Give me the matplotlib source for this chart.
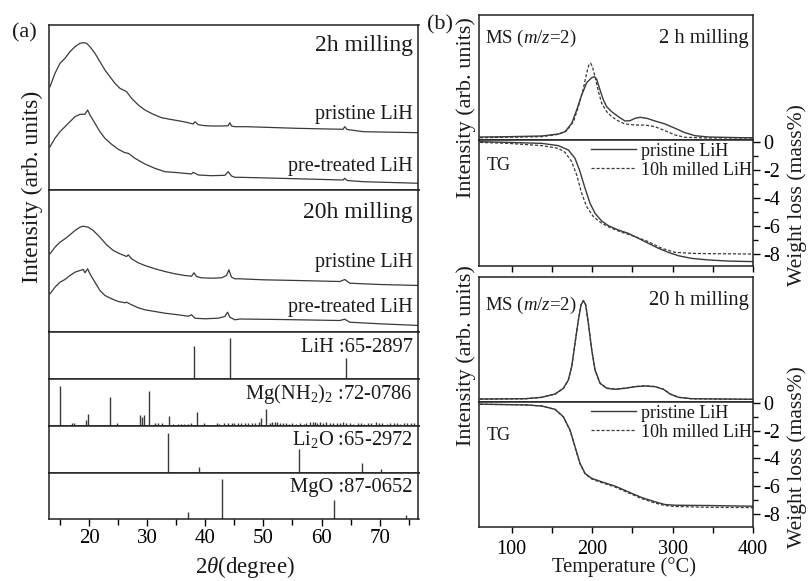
import matplotlib.pyplot as plt

plt.rcParams['font.family'] = 'Liberation Serif'
plt.rcParams['mathtext.fontset'] = 'custom'
plt.rcParams['mathtext.rm'] = 'Liberation Serif'
plt.rcParams['mathtext.it'] = 'Liberation Serif:italic'
plt.rcParams['axes.unicode_minus'] = False

# ---------------- (a) XRD patterns ----------------
tt_2h_pristine = [13.24, 14.1, 14.96, 15.82, 16.68, 17.54, 18.4, 18.97, 19.55, 20.12, 20.98, 21.84,
                  22.7, 23.56, 24.42, 25.28, 26.43, 27.29, 28.44, 29.59, 31.02, 32.46, 33.89, 35.32,
                  36.76, 37.91, 38.19, 38.77, 39.91, 41.06, 42.78, 43.93, 44.22, 44.5, 45.08, 47.1,
                  55.7, 63.7, 64.0, 64.4, 67.2, 76.9]
int_2h_pristine = [103.3, 116.7, 126.7, 131.7, 138.3, 143.3, 146.7, 147.3, 146.7, 143.3, 136.7, 128.3,
                   120, 113.3, 106.7, 101.7, 98.3, 91.7, 85, 80, 75.7, 72.3, 70.7, 69.3,
                   67.7, 66, 68.3, 65.3, 64.3, 64, 64, 64.3, 67.3, 64, 63.3, 63.3,
                   61.7, 60.7, 63.3, 60.5, 58.3, 57.3]

tt_2h_treated = [13.24, 14.1, 14.96, 15.82, 16.68, 17.54, 18.4, 19.26, 19.72, 20.12, 20.98, 21.84,
                 22.7, 23.85, 25.0, 26.14, 26.72, 27.87, 29.59, 31.3, 33.03, 35.32, 37.62, 37.91,
                 38.77, 41.06, 43.36, 43.93, 44.5, 45.08, 45.9, 52.8, 63.7, 64.0, 64.4, 67.2, 76.9]
int_2h_treated = [43.3, 51.7, 58.3, 63.3, 68.3, 73.3, 75.7, 75.7, 80, 75, 66.7, 58.3,
                  51.7, 45.7, 40.7, 37.3, 36.7, 31.7, 26, 21.7, 18.3, 17.3, 16, 17.7,
                  15, 14.3, 14.7, 18.3, 14, 12.7, 12.7, 11.7, 10, 11.7, 9.5, 8.3, 6.7]

tt_20h_pristine = [13.24, 14.1, 14.96, 15.82, 16.68, 17.54, 18.4, 18.97, 19.83, 20.69, 21.84, 22.99,
                   24.14, 25.28, 26.43, 26.72, 27.29, 28.44, 29.59, 31.31, 33.03, 34.75, 36.47, 37.62,
                   38.02, 38.48, 39.34, 41.06, 42.78, 43.64, 44.04, 44.5, 45.08, 45.94, 49.96, 55.7,
                   63.15, 64.0, 64.87, 70.04, 76.9]
int_20h_pristine = [77.7, 84.3, 89.3, 92.7, 96.7, 101, 104.3, 105.3, 104.3, 101, 94.3, 86.7,
                    81, 77.7, 75, 76.7, 72.7, 68.7, 66, 62.7, 60, 57.7, 56, 55.3,
                    58.7, 55, 53.7, 53.3, 53.7, 56, 61.7, 54.3, 52.7, 52.7, 51.7, 51,
                    50, 52, 48.3, 47, 46]

tt_20h_treated = [13.24, 14.1, 14.96, 15.82, 16.68, 17.54, 18.4, 18.97, 19.26, 19.72, 20.12, 20.98,
                  21.84, 22.7, 23.85, 25.0, 26.14, 26.43, 27.29, 28.44, 29.59, 31.31, 33.03, 35.32,
                  37.04, 37.62, 38.19, 39.91, 42.21, 43.36, 43.82, 44.22, 45.08, 45.94, 52.83, 63.15,
                  64.0, 64.87, 70.04, 76.9]
int_20h_treated = [37.7, 44.3, 49.3, 52, 56, 59.3, 61, 62, 58.7, 62.7, 57.7, 49.3,
                   41, 36, 32.7, 30, 28.7, 29.3, 26.7, 23.7, 21.7, 20, 18.3, 16.7,
                   15.3, 16.7, 13.3, 12.7, 13.3, 15, 19.3, 14.3, 11.7, 12.5, 12, 11,
                   12.3, 9.3, 7.7, 6]

# reference cards (position, relative intensity)
lih_pos = [38.0, 44.2, 64.3]
lih_int = [81, 100, 51]

mgnh2_pos = [15.0, 17.0, 17.4, 19.4, 19.7, 23.5, 24.8, 28.8, 29.1, 29.4, 30.3, 31.4, 31.9, 32.6,
             33.8, 34.4, 35.3, 35.8, 36.4, 37.0, 37.6, 38.5, 39.7, 42.0, 42.4, 43.2, 43.9, 44.5,
             45.0, 45.6, 46.2, 46.8, 47.4, 48.0, 48.6, 49.2, 49.6, 50.4, 51.1, 51.5, 52.0, 52.4,
             52.8, 53.3, 53.8, 54.4, 55.0, 55.6, 56.3, 56.9, 57.4, 58.0, 58.5, 58.9, 59.3, 59.7,
             60.2, 60.8, 61.4, 62.0, 62.6, 63.1, 63.7, 64.3, 64.9, 65.5, 66.2, 66.8, 67.4, 68.0,
             68.6, 69.3, 69.9, 70.5, 71.2, 71.8, 72.4, 73.0, 73.6, 74.2, 74.8, 75.4, 76.0]
mgnh2_int = [100, 8, 8, 15, 29, 73, 7, 27, 22, 27, 87, 7, 7, 7,
             25, 5, 6, 6, 6, 6, 7, 35, 8, 7, 6, 8, 8, 8,
             7, 8, 7, 7, 8, 7, 8, 10, 20, 42, 7, 9, 10, 9,
             8, 7, 8, 6, 7, 6, 8, 6, 7, 9, 10, 9, 8, 10,
             8, 9, 7, 8, 7, 8, 9, 7, 8, 6, 7, 8, 6, 7,
             8, 9, 8, 7, 6, 8, 7, 8, 6, 7, 8, 7, 8]

li2o_pos = [33.6, 38.9, 56.1, 66.9, 70.3]
li2o_int = [100, 15, 59, 24, 9]

mgo_pos = [37.0, 42.9, 62.2, 74.6]
mgo_int = [18, 100, 49, 11]

card_labels = ['LiH :65-2897', r'Mg(NH$_2$)$_2$ :72-0786', r'Li$_2$O :65-2972', 'MgO :87-0652']

# ---------------- (b) MS / TG ----------------
t_ms2_pristine = [60.6, 95.8, 137.3, 158, 166.3, 174.6, 180.8, 187, 193.2, 199.5, 202.8, 205.7, 209.8,
                  214, 218.1, 224.3, 232.6, 240.9, 247.1, 253.4, 259.6, 267.9, 278.2, 290.7, 303.1,
                  315.5, 328, 344.6, 386, 400]
ms2_pristine = [2.5, 2.8, 3.5, 5.5, 7.8, 16.2, 29.5, 44.5, 56.8, 61.8, 62.8, 60.2, 49.5,
                39.5, 32.8, 27.8, 22.8, 18.5, 18.8, 21.2, 22.2, 21.2, 18.5, 15.5, 11.2,
                6.8, 3.8, 2.5, 1.8, 1.8]
t_ms2_milled = [60.6, 137.3, 158, 168.4, 176.7, 182.9, 189.1, 193.2, 196.1, 198.2, 200.3, 203.6, 207.8,
                211.9, 218.1, 224.3, 232.6, 240.9, 253.4, 265.8, 278.2, 290.7, 303.1, 315.5, 344.6, 400]
ms2_milled = [1.8, 2.8, 5.2, 8.8, 17.8, 32.8, 51.2, 66.2, 75.2, 76.2, 72.8, 62.8, 47.8,
              36.2, 27.8, 22.8, 18.5, 15.5, 14.5, 14.5, 12.8, 8.8, 4.5, 2.2, 1.5, 1.5]

t_tg2_pristine = [60.6, 95.8, 137.3, 158, 170.4, 178.7, 184.9, 191.2, 197.4, 203.6, 211.9, 220.2,
                  232.6, 245.1, 257.5, 270, 282.4, 294.8, 307.3, 323.8, 344.6, 369.4, 400]
tg2_pristine = [0.0, -0.05, -0.12, -0.28, -0.59, -1.18, -2.13, -3.32, -4.39, -5.1, -5.65, -5.98,
                -6.29, -6.53, -6.88, -7.24, -7.59, -7.88, -8.12, -8.31, -8.42, -8.5, -8.54]
t_tg2_milled = [60.6, 95.8, 137.3, 158, 166.3, 174.6, 180.8, 187, 193.2, 201.5, 211.9, 224.3,
                236.8, 253.4, 270, 286.5, 303.1, 323.8, 344.6, 400]
tg2_milled = [-0.05, -0.12, -0.28, -0.47, -0.76, -1.42, -2.37, -3.68, -4.63, -5.34, -5.81, -6.17,
              -6.45, -6.76, -7.12, -7.59, -7.88, -7.95, -7.97, -8.0]

t_ms20 = [60.6, 116.5, 137.3, 153.9, 164.2, 170.4, 174.6, 178.7, 182.9, 186.2, 189.1, 192, 195.3,
          199.5, 203.6, 209.8, 218.1, 228.5, 240.9, 253.4, 265.8, 278.2, 288.6, 296.9, 307.3,
          323.8, 400]
ms20_pristine = [2.7, 3.0, 4.4, 7.7, 13.4, 21.7, 35, 58.4, 81.7, 96.7, 101, 96.7, 78.4,
                 51.7, 31.7, 18.4, 13.4, 12.4, 13.4, 15, 15.7, 15, 12.4, 7.7, 4.4,
                 3.0, 2.4]
ms20_milled = [2.5, 2.9, 4.3, 7.6, 13.2, 21.5, 35, 58.6, 82, 97, 101.3, 97, 78.6,
               51.9, 31.9, 18.6, 13.6, 12.6, 13.6, 15.2, 15.9, 15.2, 12.6, 7.8, 4.4,
               2.9, 2.3]

t_tg20 = [60.6, 116.5, 137.3, 153.9, 164.2, 172.5, 178.7, 184.9, 191.2, 199.5, 211.9, 228.5,
          245.1, 261.6, 278.2, 290.7, 303.1, 344.6, 400]
tg20_pristine = [-0.07, -0.12, -0.2, -0.44, -0.98, -1.94, -3.15, -4.36, -5.09, -5.45, -5.7, -6.01,
                 -6.43, -6.84, -7.15, -7.35, -7.4, -7.42, -7.47]
tg20_milled = [-0.07, -0.12, -0.2, -0.45, -1.0, -1.97, -3.18, -4.4, -5.12, -5.5, -5.76, -6.08,
               -6.5, -6.92, -7.24, -7.42, -7.49, -7.55, -7.57]

W, H = 810, 581
fig = plt.figure(figsize=(W / 100, H / 100), dpi=100)
LINE = '#3a3a3a'
DASH = (0, (2.5, 1.5))


def box(left, top, right, bottom):
    ax = fig.add_axes([left / W, 1 - bottom / H, (right - left) / W, (bottom - top) / H])
    for s in ax.spines.values():
        s.set_linewidth(1.1)
        s.set_color('#222222')
    ax.tick_params(left=False, bottom=False, labelleft=False, labelbottom=False)
    return ax


def text(x, y, s, size, ha='left', va='baseline', **kw):
    fig.text(x / W, 1 - y / H, s, fontsize=size, ha=ha, va=va, color='#1a1a1a', **kw)


# ---- panel (a)
XA = (13.12, 76.7)
ax_2h = box(49.3, 25, 418.5, 190)
ax_2h.plot(tt_2h_pristine, int_2h_pristine, color=LINE, lw=0.9)
ax_2h.plot(tt_2h_treated, int_2h_treated, color=LINE, lw=0.9)
ax_2h.set_ylim(0, 165)

ax_20h = box(49.3, 190, 418.5, 331.5)
ax_20h.plot(tt_20h_pristine, int_20h_pristine, color=LINE, lw=0.9)
ax_20h.plot(tt_20h_treated, int_20h_treated, color=LINE, lw=0.9)
ax_20h.set_ylim(0, 141.5)

edges = [331.5, 379, 426, 472.7, 519.3]
cards = [(lih_pos, lih_int), (mgnh2_pos, mgnh2_int), (li2o_pos, li2o_int), (mgo_pos, mgo_int)]
strips = []
for i, (pos, inten) in enumerate(cards):
    ax = box(49.3, edges[i], 418.5, edges[i + 1])
    ax.vlines(pos, 0, inten, color=LINE, lw=1.0)
    ax.set_ylim(0, 117)
    strips.append(ax)

for ax in [ax_2h, ax_20h] + strips:
    ax.set_xlim(*XA)

bottom = strips[-1]
bottom.set_xticks([20, 30, 40, 50, 60, 70])
bottom.set_xticks([15, 25, 35, 45, 55, 65, 75], minor=True)
bottom.tick_params(axis='x', which='both', bottom=True, labelbottom=True, direction='out',
                   width=1.0, labelsize=15, pad=2)
bottom.tick_params(axis='x', which='major', length=5)
bottom.tick_params(axis='x', which='minor', length=4)

text(413, 50.7, '2h milling', 17, ha='right')
text(413, 119.3, 'pristine LiH', 14.5, ha='right')
text(413, 170.7, 'pre-treated LiH', 14.5, ha='right')
text(413, 217.7, '20h milling', 17, ha='right')
text(413, 266.7, 'pristine LiH', 14.5, ha='right')
text(413, 311.7, 'pre-treated LiH', 14.5, ha='right')
for lab, yb in zip(card_labels, [351.7, 398.5, 444.5, 492.3]):
    text(413, yb, lab, 14.8, ha='right')

text(24, 33, '(a)', 16, ha='center', va='center')
text(32, 187, 'Intensity (arb. units)', 17, ha='center', va='center', rotation=90)
text(245, 567, r'$\mathit{2\theta}$(degree)', 16.5, ha='center', va='center')

# ---- panel (b)
XB = (59.7, 400)


def ms_tg(top, mid, bot, t_ms_a, ms_a, t_ms_b, ms_b, ms_lim, t_tg_a, tg_a, t_tg_b, tg_b, tg_lim, last):
    ms = box(479.3, top, 753, mid)
    ms.plot(t_ms_a, ms_a, color=LINE, lw=1.0)
    ms.plot(t_ms_b, ms_b, color=LINE, lw=0.9, ls=DASH)
    ms.set_xlim(*XB)
    ms.set_ylim(*ms_lim)
    tg = box(479.3, mid, 753, bot)
    tg.plot(t_tg_a, tg_a, color=LINE, lw=1.0, label='pristine LiH')
    tg.plot(t_tg_b, tg_b, color=LINE, lw=0.9, ls=DASH, label='10h milled LiH')
    tg.set_xlim(*XB)
    tg.set_ylim(*tg_lim)
    tg.yaxis.tick_right()
    tg.set_yticks([0, -2, -4, -6, -8])
    tg.set_yticks([-1, -3, -5, -7], minor=True)
    tg.tick_params(axis='y', which='both', right=True, labelright=True, direction='out',
                   width=1.0, labelsize=14.5, pad=2.2)
    tg.tick_params(axis='y', which='major', length=5)
    tg.tick_params(axis='y', which='minor', length=3.5)
    tg.set_xticks([100, 200, 300, 400])
    tg.set_xticks([150, 250, 350], minor=True)
    tg.tick_params(axis='x', which='both', bottom=True, labelbottom=last, direction='out',
                   width=1.0, length=4.5, labelsize=14.5, pad=4.5)
    leg = tg.legend(loc='upper left', bbox_to_anchor=(591 / W, 1 - (mid + 2.5) / H),
                    bbox_transform=fig.transFigure, frameon=False, fontsize=13,
                    borderpad=0, borderaxespad=0, handlelength=2.5, handletextpad=0.25,
                    labelspacing=0.12)
    for t in leg.get_texts():
        t.set_color('#1a1a1a')
    return ms, tg


ms_tg(15, 140, 265.7, t_ms2_pristine, ms2_pristine, t_ms2_milled, ms2_milled, (-0.5, 124.5),
      t_tg2_pristine, tg2_pristine, t_tg2_milled, tg2_milled, (-8.83, 0.12), False)
ms_tg(276.7, 402, 527.3, t_ms20, ms20_pristine, t_ms20, ms20_milled, (-0.3, 125),
      t_tg20, tg20_pristine, t_tg20, tg20_milled, (-9.0, 0.09), True)

text(485, 43.3, r'MS ($m$/$z$=2)', 13.5)
text(749, 43.3, '2 h milling', 14.8, ha='right')
text(486.5, 170, 'TG', 13)
text(485, 310, r'MS ($m$/$z$=2)', 13.5)
text(749, 305, '20 h milling', 14.8, ha='right')
text(486.5, 440, 'TG', 13)

text(440, 25, '(b)', 16, ha='center', va='center')
text(466, 107.5, 'Intensity (arb. units)', 16, ha='center', va='center', rotation=90)
text(466, 356, 'Intensity (arb. units)', 16, ha='center', va='center', rotation=90)
text(797, 195, 'Weight loss (mass%)', 15.6, ha='center', va='center', rotation=90)
text(797, 457, 'Weight loss (mass%)', 15.6, ha='center', va='center', rotation=90)
text(624, 567, 'Temperature (\u00b0C)', 14.8, ha='center', va='center')

fig.savefig('out.png', dpi=100)
